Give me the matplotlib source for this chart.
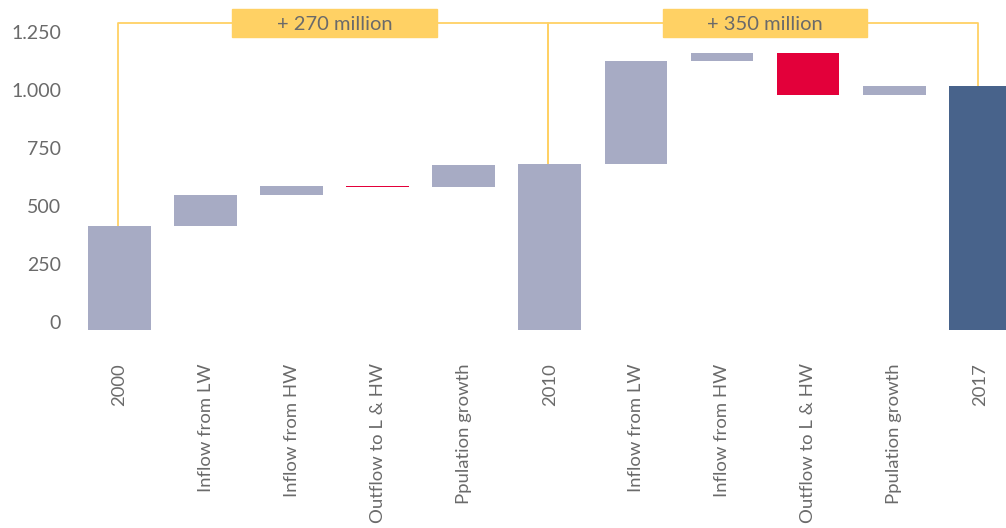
import matplotlib.pyplot as plt
from matplotlib.patches import Rectangle

plt.rcParams['font.family'] = ['Lato', 'DejaVu Sans']

labels = ['2000', 'Inflow from LW', 'Inflow from HW', 'Outflow to L & HW', 'Ppulation growth',
          '2010', 'Inflow from LW', 'Inflow from HW', 'Outflow to L & HW', 'Ppulation growth', '2017']
totals = {0: 415, 5: 681, 10: 1017}
deltas_1 = [133, 40, -6, 95]
deltas_2 = [444, 35, -181, 40]
brackets = [(0, 5, '+ 270 million'), (5, 10, '+ 350 million')]

grey = '#a7abc4'
red = '#e3003a'
navy = '#48638b'
yellow = '#ffd164'
txt = '#6a6a6a'

fig = plt.figure(figsize=(10.06, 5.28), dpi=100)
ax = fig.add_axes([76.5 / 1006, 198 / 528, (1006 - 76.5) / 1006, 330 / 528])
y_floor = -33
ax.set_ylim(y_floor, 1389)
ax.set_xlim(-0.5, 10.3)
w = 0.73

# totals
for i, v in totals.items():
    c = navy if i == 10 else grey
    ax.bar(i, v - y_floor, bottom=y_floor, width=w, color=c, zorder=2)

# floating steps
for start, deltas in [(0, deltas_1), (5, deltas_2)]:
    cum = totals[start]
    for k, d in enumerate(deltas):
        x = start + 1 + k
        c = red if d < 0 else grey
        ax.bar(x, d, bottom=cum, width=w, color=c, zorder=2)
        cum += d

# brackets
line_y = 1291
for a, b, lab in brackets:
    ax.plot([a - 0.02, a - 0.02, b - 0.02, b - 0.02],
            [totals[a], line_y, line_y, totals[b]], color=yellow, lw=1.3, zorder=1,
            solid_joinstyle='round')
    mid = (a + b) / 2
    ax.add_patch(Rectangle((mid - 1.19, 1231), 2.38, 119, color=yellow, zorder=3))
    ax.text(mid, 1284, lab, ha='center', va='center', fontsize=14.5, color=txt, zorder=4)

ax.set_yticks([0, 250, 500, 750, 1000, 1250])
ax.set_yticklabels(['0', '250', '500', '750', '1.000', '1.250'])
ax.set_xticks(range(len(labels)))
ax.set_xticklabels(labels, rotation=90, va='top', ha='center')
ax.tick_params(axis='y', length=0, pad=11, labelsize=14, labelcolor=txt)
ax.tick_params(axis='x', length=0, pad=24, labelsize=13.3, labelcolor=txt)
for s in ax.spines.values():
    s.set_visible(False)

fig.savefig('out.png', dpi=100)
